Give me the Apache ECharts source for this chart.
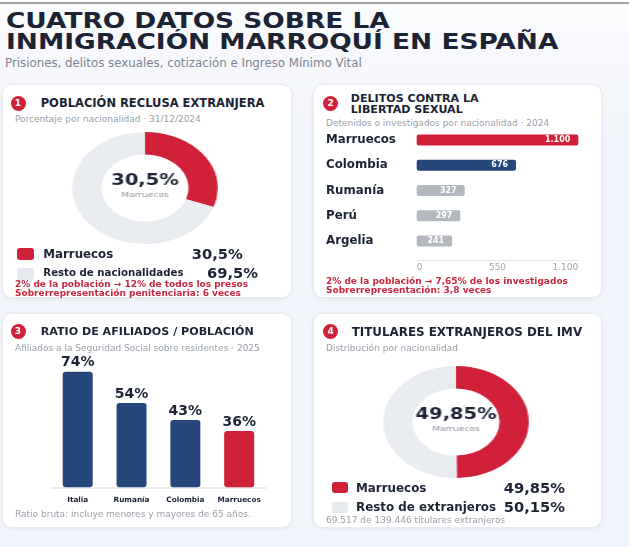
<!DOCTYPE html>
<html>
<head>
<meta charset="utf-8">
<script src="https://cdn.jsdelivr.net/npm/echarts@6/dist/echarts.min.js"></script>
<style>
html, body { margin: 0; padding: 0; }
body { width: 629px; height: 547px; overflow: hidden; font-family: 'DejaVu Sans', sans-serif;
       background: linear-gradient(#fbfcfd 0px, #f6f8fc 60px, #f1f4fa 140px); }
#page { position: relative; width: 629px; height: 547px; }
.topline { position: absolute; left: 0; top: 2px; width: 629px; height: 2px; background: #a4a4a4; }
.card { position: absolute; background: #fff; border-radius: 10px; border: 1px solid #e8ecf2;
        box-sizing: border-box; box-shadow: 0 1px 4px rgba(30, 40, 70, 0.07); }
.t { position: absolute; white-space: nowrap; line-height: 20px; height: 20px; }
.badge { position: absolute; width: 15px; height: 15px; border-radius: 50%; background: #d0203a;
         color: #fff; font-weight: bold; font-size: 9px; line-height: 15px; text-align: center; }
.sw { position: absolute; border-radius: 3px; }
.chart { position: absolute; }
</style>
</head>
<body>
<div id="page"><div class="topline"></div></div>
<script>
// 1. poblacion reclusa extranjera (31/12/2024)
var reclusaNames = ['Marruecos', 'Resto de nacionalidades'];
var reclusaValues = [30.5, 69.5];

// 2. delitos contra la libertad sexual (2024)
var delitosCats = ['Marruecos', 'Colombia', 'Rumanía', 'Perú', 'Argelia'];
var delitosValues = [1100, 676, 327, 297, 241];
var delitosTicks = [0, 550, 1100];

// 3. ratio de afiliados / poblacion (2025)
var afiliadosCats = ['Italia', 'Rumanía', 'Colombia', 'Marruecos'];
var afiliadosValues = [74, 54, 43, 36];

// 4. titulares extranjeros del IMV
var imvNames = ['Marruecos', 'Resto de extranjeros'];
var imvValues = [49.85, 50.15];

var RED = '#d0203a', NAVY = '#25477b', BARGREY = '#b3b7be', RING = '#e8ebf0', INK = '#1b2334';
var FONT = 'DejaVu Sans';
var page = document.getElementById('page');

function pct(v) { return String(v).replace('.', ',') + '%'; }
function miles(v) { return String(v).replace(/\B(?=(\d{3})+(?!\d))/g, '.'); }

function put(txt, x, cy, css, alignRight) {
    var d = document.createElement('div');
    d.className = 't';
    d.textContent = txt;
    d.style.cssText = css;
    d.style.top = (cy - 10) + 'px';
    if (alignRight) d.style.right = (629 - x) + 'px';
    else d.style.left = x + 'px';
    page.appendChild(d);
    return d;
}
function box(cls, x, y, w, h, css) {
    var d = document.createElement('div');
    d.className = cls;
    d.style.cssText = 'left:' + x + 'px;top:' + y + 'px;width:' + w + 'px;height:' + h + 'px;' + (css || '');
    page.appendChild(d);
    return d;
}
function badge(n, cx, cy) {
    var d = box('badge', cx - 7.5, cy - 7.5, 15, 15);
    d.textContent = n;
}

var H1 = 'font-size:22px;font-weight:bold;color:' + INK + ';transform:scaleX(1.2);transform-origin:0 50%;';
var SUB = 'font-size:11.8px;color:#7c8490;';
var PS = 'font-size:9px;color:#9aa1ab;';
var FR = 'font-size:9px;font-weight:bold;color:#c8283d;';
var FG = 'font-size:9px;color:#9aa1ab;';
var VAL = 'font-size:14.7px;font-weight:bold;color:' + INK + ';';
function PT(fs) { return 'font-size:' + fs + 'px;font-weight:bold;color:' + INK + ';'; }

// header
put('CUATRO DATOS SOBRE LA', 6, 20.5, H1);
put('INMIGRACIÓN MARROQUÍ EN ESPAÑA', 6, 42, H1);
put('Prisiones, delitos sexuales, cotización e Ingreso Mínimo Vital', 5, 63.3, SUB);

// cards
box('card', 2, 84, 290, 214);
box('card', 313, 84, 289, 214);
box('card', 2, 313, 290, 215);
box('card', 313, 313, 289, 215);

function donut(names, values, cx, cy) {
    var el = box('chart', cx - 60, cy - 60, 120, 120, 'transform:scaleX(1.3);');
    var c = echarts.init(el);
    c.setOption({
        animation: false,
        graphic: [
            {type: 'text', x: 60, y: 53.6,
             style: {text: pct(values[0]), font: 'bold 15px "DejaVu Sans"', fill: INK,
                     align: 'center', verticalAlign: 'middle', textAlign: 'center', textVerticalAlign: 'middle'}},
            {type: 'text', x: 60, y: 67,
             style: {text: names[0], font: '7px "DejaVu Sans"', fill: '#8a929d',
                     align: 'center', verticalAlign: 'middle', textAlign: 'center', textVerticalAlign: 'middle'}}
        ],
        series: [{
            type: 'pie',
            radius: [33.5, 56],
            center: ['50%', '50%'],
            startAngle: 90,
            silent: true,
            label: {show: false},
            labelLine: {show: false},
            data: names.map(function (n, i) {
                return {name: n, value: values[i], itemStyle: {color: i === 0 ? RED : RING}};
            })
        }]
    });
    return c;
}

function legendRow(color, name, value, swX, swY, swW, swH, lx, cy, fs, vRight) {
    box('sw', swX, swY, swW, swH, 'background:' + color + ';');
    put(name, lx, cy, PT(fs));
    put(pct(value), vRight, cy, VAL, true);
}

// ---- panel 1
badge('1', 18, 103);
put('POBLACIÓN RECLUSA EXTRANJERA', 40.7, 103, PT(11.5));
put('Porcentaje por nacionalidad · 31/12/2024', 15, 119, PS);
donut(reclusaNames, reclusaValues, 145, 187.5);
legendRow(RED, reclusaNames[0], reclusaValues[0], 16.7, 248, 17.6, 12, 43.3, 254, 11.8, 242.7);
legendRow('#e5e8ee', reclusaNames[1], reclusaValues[1], 16.7, 268, 17.6, 11.5, 43.3, 273, 10.2, 258);
put('2% de la población → 12% de todos los presos', 15, 284, FR);
put('Sobrerrepresentación penitenciaria: 6 veces', 15, 292.7, FR);

// ---- panel 2
badge('2', 330.7, 103);
put('DELITOS CONTRA LA', 350.7, 99.3, PT(11.1));
put('LIBERTAD SEXUAL', 350.7, 110, PT(11.1));
put('Detenidos o investigados por nacionalidad · 2024', 326, 123.3, PS);

var barColors2 = [RED, NAVY, BARGREY, BARGREY, BARGREY];
var c2 = echarts.init(box('chart', 313, 84, 289, 214));
c2.setOption({
    animation: false,
    grid: {left: 103.7, top: 43.4, width: 161.6, height: 126.2, containLabel: false, outerBoundsMode: 'none'},
    xAxis: {
        type: 'value', min: delitosTicks[0], max: delitosTicks[2], interval: delitosTicks[1] - delitosTicks[0],
        offset: 6.4,
        axisLine: {show: true, lineStyle: {color: '#e3e6eb', width: 1}},
        axisTick: {show: false},
        splitLine: {show: false},
        axisLabel: {margin: 3, fontSize: 9, color: '#a1a7b0', fontFamily: FONT,
                    alignMinLabel: 'left', alignMaxLabel: 'right',
                    formatter: function (v) { return miles(v); }}
    },
    yAxis: {
        type: 'category', inverse: true, data: delitosCats,
        axisLine: {show: false}, axisTick: {show: false},
        axisLabel: {interval: 0, margin: 90.7, align: 'left', fontSize: 11.8, fontWeight: 'bold',
                    color: INK, fontFamily: FONT}
    },
    series: [{
        type: 'bar',
        barWidth: 11,
        silent: true,
        data: delitosValues.map(function (v, i) { return {value: v, itemStyle: {color: barColors2[i]}}; }),
        itemStyle: {borderRadius: 2},
        label: {show: true, position: 'insideRight', distance: 8, color: '#fff', fontSize: 8,
                fontWeight: 'bold', fontFamily: FONT,
                formatter: function (p) { return miles(p.value); }}
    }]
});
put('2% de la población → 7,65% de los investigados', 326, 281, FR);
put('Sobrerrepresentación: 3,8 veces', 326, 290, FR);

// ---- panel 3
badge('3', 18, 331.7);
put('RATIO DE AFILIADOS / POBLACIÓN', 40.7, 331.7, PT(11.1));
put('Afiliados a la Seguridad Social sobre residentes · 2025', 15, 348.3, PS);

var barColors3 = [NAVY, NAVY, NAVY, RED];
var c3 = echarts.init(box('chart', 2, 313, 290, 215));
c3.setOption({
    animation: false,
    grid: {left: 48.8, top: 49.3, width: 215.3, height: 125, containLabel: false, outerBoundsMode: 'none'},
    xAxis: {
        type: 'category', data: afiliadosCats,
        axisLine: {show: true, lineStyle: {color: '#e4e7ec', width: 1.5}},
        axisTick: {show: false},
        axisLabel: {interval: 0, margin: 9, fontSize: 7.3, fontWeight: 'bold', color: INK, fontFamily: FONT}
    },
    yAxis: {type: 'value', min: 0, max: 80, show: false},
    series: [{
        type: 'bar',
        barWidth: 30,
        silent: true,
        data: afiliadosValues.map(function (v, i) { return {value: v, itemStyle: {color: barColors3[i]}}; }),
        itemStyle: {borderRadius: 3},
        label: {show: true, position: 'top', distance: 2, color: INK, fontSize: 14, fontWeight: 'bold',
                fontFamily: FONT, formatter: function (p) { return p.value + '%'; }}
    }]
});
put('Ratio bruta: incluye menores y mayores de 65 años.', 15, 514, FG);

// ---- panel 4
badge('4', 330.7, 331.7);
put('TITULARES EXTRANJEROS DEL IMV', 351.7, 331.7, PT(11.9));
put('Distribución por nacionalidad', 326, 348.3, PS);
donut(imvNames, imvValues, 455.5, 422);
legendRow(RED, imvNames[0], imvValues[0], 331.7, 481.7, 16.6, 11.6, 356, 487.7, 11.9, 565);
legendRow('#e5e8ee', imvNames[1], imvValues[1], 331.7, 501.7, 16.6, 11, 356, 506.7, 11.9, 565);
put('69.517 de 139.446 titulares extranjeros', 326, 520, FG);
</script>
</body>
</html>
